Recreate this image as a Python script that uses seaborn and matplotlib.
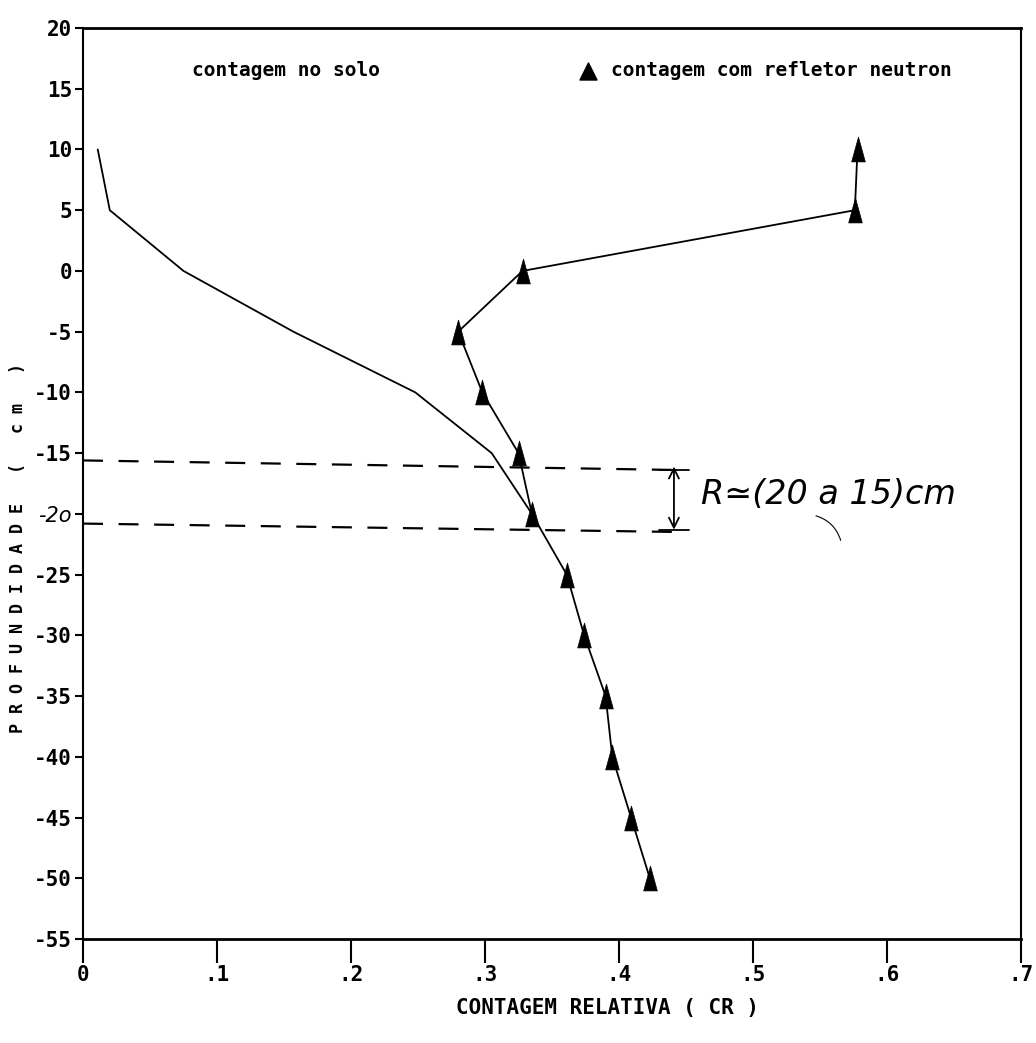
import matplotlib
matplotlib.use("Agg")
import matplotlib.pyplot as plt
import seaborn as sns
import numpy as np
import pandas as pd
from matplotlib.path import Path
from matplotlib.markers import MarkerStyle
from matplotlib.patches import FancyArrowPatch

# ---- data ----
refl_depth = [10, 5, 0, -5, -10, -15, -20, -25, -30, -35, -40, -45, -50]
refl_count = [0.578, 0.576, 0.328, 0.280, 0.298, 0.325, 0.335, 0.361, 0.374, 0.390, 0.395, 0.409, 0.423]

soil_depth = [10, 5, 0, -5, -10, -15, -20]
soil_count = [0.011, 0.020, 0.075, 0.157, 0.248, 0.305, 0.335]

x_ticks = [0, 0.1, 0.2, 0.3, 0.4, 0.5, 0.6, 0.7]
x_ticklabels = ["0", ".1", ".2", ".3", ".4", ".5", ".6", ".7"]
y_ticks = [20, 15, 10, 5, 0, -5, -10, -15, -20, -25, -30, -35, -40, -45, -50, -55]
y_ticklabels = ["20", "15", "10", "5", "0", "-5", "-10", "-15", "-2o", "-25", "-30",
                "-35", "-40", "-45", "-50", "-55"]

# annotation guide lines (hand-drawn in the original)
guide_top_x = [0.0, 0.45]
guide_top_y = [-15.6, -16.4]
guide_bot_x = [0.0, 0.45]
guide_bot_y = [-20.8, -21.5]
range_arrow_x = 0.441
range_arrow_y = [-16.1, -21.3]

df_refl = pd.DataFrame({"count": refl_count, "depth": refl_depth})
df_soil = pd.DataFrame({"count": soil_count, "depth": soil_depth})

sns.set_theme(style="white")
plt.rcParams["font.family"] = ["DejaVu Sans Mono", "DejaVu Sans"]
plt.rcParams["text.color"] = "black"
plt.rcParams["xtick.color"] = "black"
plt.rcParams["ytick.color"] = "black"
plt.rcParams["axes.labelcolor"] = "black"

fig = plt.figure(figsize=(10.36, 10.43), dpi=100)
ax = fig.add_axes([83 / 1036, 1 - 939 / 1043, 938 / 1036, 911 / 1043])

# soil curve
sns.lineplot(data=df_soil, x="count", y="depth", sort=False, estimator=None,
             color="black", lw=1.3, ax=ax)
# reflector curve
sns.lineplot(data=df_refl, x="count", y="depth", sort=False, estimator=None,
             color="black", lw=1.3, ax=ax)
tri = MarkerStyle(Path([(-0.55, -1), (0.55, -1), (0, 1), (-0.55, -1)],
                       [Path.MOVETO, Path.LINETO, Path.LINETO, Path.CLOSEPOLY]))
sns.scatterplot(data=df_refl, x="count", y="depth", marker=tri, s=320,
                color="black", edgecolor="black", linewidth=0.5, ax=ax, zorder=5)

# dashed guides
ax.plot(guide_top_x, guide_top_y, color="black", lw=1.6, ls=(0, (9, 7)))
ax.plot(guide_bot_x, guide_bot_y, color="black", lw=1.6, ls=(0, (9, 7)))
ax.annotate("", xy=(range_arrow_x, range_arrow_y[0]), xytext=(range_arrow_x, range_arrow_y[1]),
            arrowprops=dict(arrowstyle="<->", color="black", lw=1.3,
                            mutation_scale=18, shrinkA=0, shrinkB=0))
ax.plot([0.43, 0.452], [range_arrow_y[0] - 0.3, range_arrow_y[0] - 0.3], color="black", lw=1.3)
ax.plot([0.43, 0.452], [range_arrow_y[1], range_arrow_y[1]], color="black", lw=1.3)

ax.text(0.461, -18.4, "R\u2243(20 a 15)cm", fontsize=24, style="italic",
        family="DejaVu Sans", fontweight="light", va="center", ha="left", color="black")
arc = FancyArrowPatch((0.545, -20.1), (0.566, -22.4), arrowstyle="-",
                      connectionstyle="arc3,rad=-0.3", color="black", lw=0.8)
ax.add_patch(arc)

# legend texts
ax.text(0.116, 0.953, "contagem no solo", transform=ax.transAxes, fontsize=14,
        fontweight="bold", va="center", ha="left")
ax.scatter([0.538], [0.953], marker="^", s=150, color="black", transform=ax.transAxes,
           clip_on=False)
ax.text(0.563, 0.953, "contagem com refletor neutron", transform=ax.transAxes,
        fontsize=14, fontweight="bold", va="center", ha="left")

ax.set_xlim(0, 0.7)
ax.set_ylim(-55, 20)
ax.set_xticks(x_ticks)
ax.set_xticklabels(x_ticklabels)
ax.set_yticks(y_ticks)
ax.set_yticklabels(y_ticklabels)
for lab in ax.get_yticklabels():
    if lab.get_text() == "-2o":
        lab.set_style("italic")
        lab.set_family("DejaVu Sans")
        lab.set_fontweight("normal")

ax.tick_params(axis="x", direction="out", length=17, width=1.5, pad=2,
               labelsize=15, bottom=True, colors="black")
ax.tick_params(axis="y", direction="out", length=6, width=1.5, pad=2,
               labelsize=15, left=True, colors="black")
for lab in ax.get_xticklabels() + ax.get_yticklabels():
    if lab.get_text() != "-2o":
        lab.set_fontweight("bold")

for side, sp in ax.spines.items():
    sp.set_visible(True)
    sp.set_color("black")
    sp.set_linewidth(2 if side in ("top", "bottom") else 1.5)

ax.set_xlabel("")
ax.set_ylabel("")
fig.text(608 / 1036, 1 - 1008 / 1043, "CONTAGEM RELATIVA ( CR )", fontsize=15,
         fontweight="bold", ha="center", va="center")
fig.text(18 / 1036, 1 - 548 / 1043, "P R O F U N D I D A D E   (   c m   )",
         rotation=90, fontsize=12, fontweight="bold", ha="center", va="center")

fig.savefig("out.png", dpi=100, facecolor="white")
